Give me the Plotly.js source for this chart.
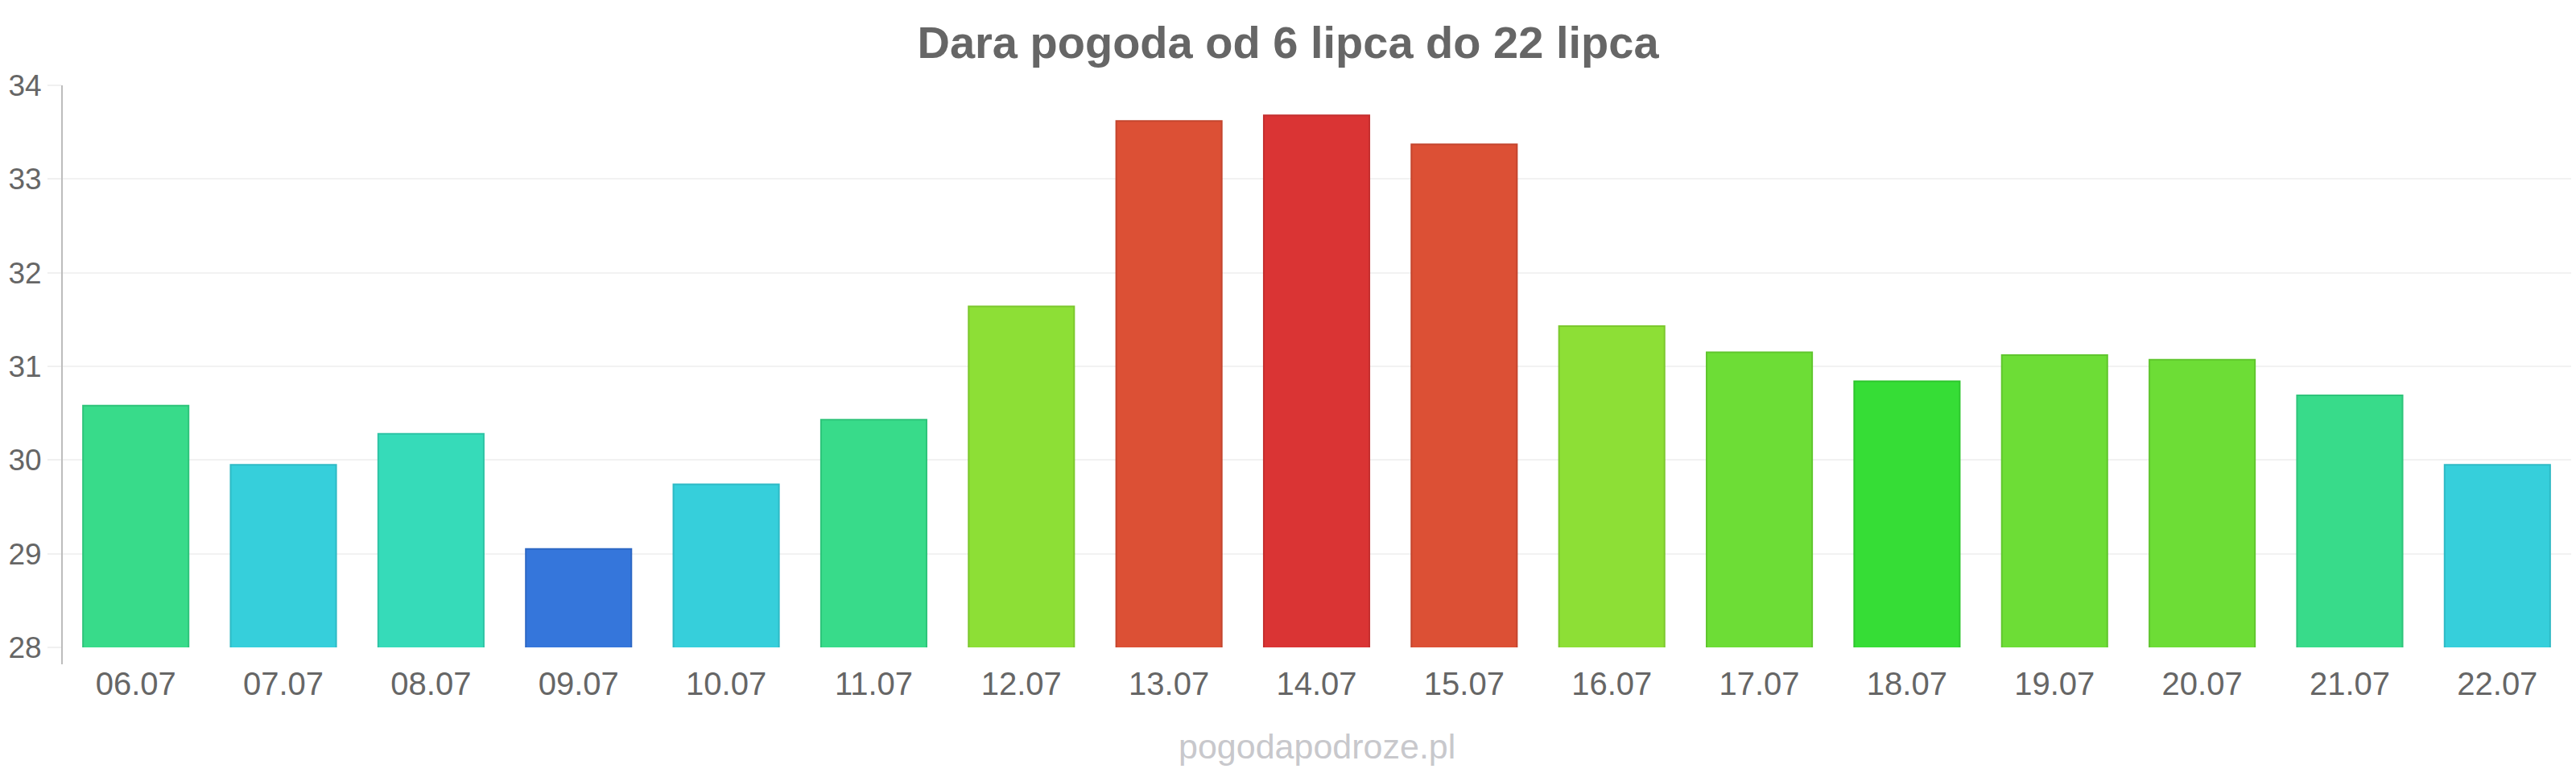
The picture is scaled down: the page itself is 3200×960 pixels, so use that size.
<!DOCTYPE html>
<html>
<head>
<meta charset="utf-8">
<script src="https://cdn.plot.ly/plotly-3.0.1.min.js"></script>
<style>html,body{margin:0;padding:0;background:#fff;}#chart{width:3200px;height:960px;}</style>
</head>
<body>
<div id="chart"></div>
<script>
const categories = ["06.07","07.07","08.07","09.07","10.07","11.07","12.07","13.07","14.07","15.07","16.07","17.07","18.07","19.07","20.07","21.07","22.07"];
const temperatures = [30.58,29.95,30.28,29.05,29.74,30.43,31.64,33.62,33.68,33.37,31.43,31.15,30.84,31.12,31.07,30.69,29.95];
const barColors = ["#38db8a","#36cfdb","#36dbb9","#3576db","#36cfdb","#38db8a","#8ddf36","#dc5035","#da3434","#dc5035","#8ddf36","#6ddd36","#36dd36","#6ddd36","#6ddd36","#38db8a","#36cfdb"];
const borderColors = ["#2ec47a","#2ebac5","#2ec4a5","#2e68c4","#2ebac5","#2ec47a","#7cc82e","#c4452e","#c42e2e","#c4452e","#7cc82e","#60c62e","#2ec62e","#60c62e","#60c62e","#2ec47a","#2ebac5"];
const yTicks = [28,29,30,31,32,33,34];
const titleText = "Dara pogoda od 6 lipca do 22 lipca";
const watermark = "pogodapodroze.pl";

const trace = {
  type: "bar",
  x: categories,
  y: temperatures,
  marker: {color: barColors, line: {color: borderColors, width: 2}},
  hoverinfo: "x+y"
};

const layout = {
  width: 3200,
  height: 960,
  margin: {l: 77, r: 6, t: 106, b: 156},
  paper_bgcolor: "#ffffff",
  plot_bgcolor: "#ffffff",
  font: {family: "Liberation Sans, Arial, sans-serif", color: "#666666"},
  title: {text: "<b>" + titleText + "</b>", font: {size: 56, color: "#666666", family: "Liberation Sans, Arial, sans-serif"}, x: 0.5, xanchor: "center", y: 0.945, yanchor: "middle"},
  bargap: 0.285,
  showlegend: false,
  xaxis: {
    type: "category",
    showgrid: false,
    showline: false,
    zeroline: false,
    ticks: "",
    tickfont: {size: 40, color: "#666666"},
    ticklabelstandoff: 18
  },
  yaxis: {
    range: [28, 34],
    tickvals: yTicks,
    ticktext: yTicks.map(String),
    showgrid: true,
    gridcolor: "#f2f2f2",
    gridwidth: 2,
    zeroline: false,
    showline: false,
    ticks: "outside",
    ticklen: 17,
    tickcolor: "#f0f0f0",
    tickwidth: 2,
    tickfont: {size: 37, color: "#666666"}
  },
  shapes: [{
    type: "line", xref: "paper", yref: "paper",
    x0: 0, x1: 0, y0: -0.03, y1: 1,
    line: {color: "#bdbdbd", width: 2}
  }],
  annotations: [{
    text: watermark, xref: "paper", yref: "paper",
    x: 0.5, y: -0.176, xanchor: "center", yanchor: "middle",
    showarrow: false,
    font: {size: 43, color: "#c8c8cc", family: "Liberation Sans, Arial, sans-serif"}
  }]
};

Plotly.newPlot("chart", [trace], layout, {displayModeBar: false, staticPlot: true});
</script>
</body>
</html>
